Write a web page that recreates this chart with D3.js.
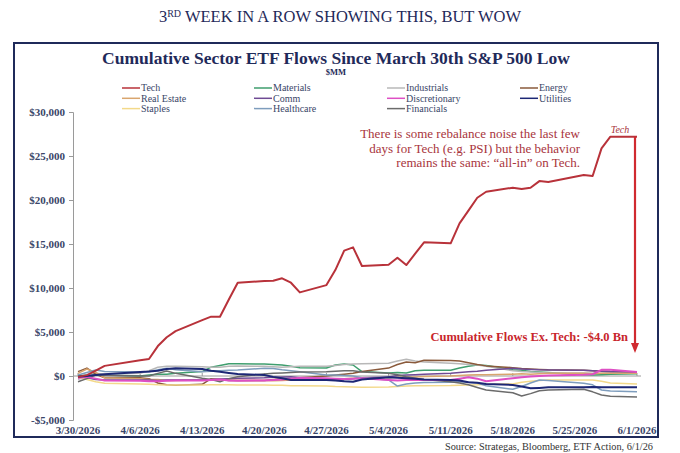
<!DOCTYPE html>
<html>
<head>
<meta charset="utf-8">
<script src="https://cdn.jsdelivr.net/npm/d3@7"></script>
<style>
  body { margin: 0; background: #fff; }
  svg { display: block; font-family: "Liberation Serif", serif; }
</style>
</head>
<body>
<svg id="chart" width="680" height="453"></svg>
<script>
// trading days since the 3/30 low
let dates = ["2026-03-30","2026-03-31","2026-04-01","2026-04-02","2026-04-06","2026-04-07","2026-04-08","2026-04-09","2026-04-10",
  "2026-04-13","2026-04-14","2026-04-15","2026-04-16","2026-04-17","2026-04-20","2026-04-21","2026-04-22","2026-04-23","2026-04-24",
  "2026-04-27","2026-04-28","2026-04-29","2026-04-30","2026-05-01","2026-05-04","2026-05-05","2026-05-06","2026-05-07","2026-05-08",
  "2026-05-11","2026-05-12","2026-05-13","2026-05-14","2026-05-15","2026-05-18","2026-05-19","2026-05-20","2026-05-21","2026-05-22",
  "2026-05-26","2026-05-27","2026-05-28","2026-05-29","2026-06-01"]

let tickDates = ["2026-03-30","2026-04-06","2026-04-13","2026-04-20","2026-04-27","2026-05-04","2026-05-11","2026-05-18","2026-05-25","2026-06-01"]
let yTicks = [-5000, 0, 5000, 10000, 15000, 20000, 25000, 30000]

// cumulative flows, $MM
let tech = [-100,100,600,1150,1800,1930,3400,4400,5100,6350,6740,6740,8690,10600,10800,10830,11100,10600,9500,10330,
  12040,14240,14620,12500,12650,13440,12610,13900,15190,15080,17350,18800,20260,20940,21400,21240,21400,22150,22040,22830,
  22720,25870,27190,27190]
let materials = [0,100,200,100,0,100,200,200,300,500,1000,1200,1400,1400,1350,1300,1250,1100,950,900,
  1250,1350,1250,500,350,400,350,600,650,650,900,1100,1250,1200,700,650,500,450,400,150,100,150,200,250]
let industrials = [-200,100,300,200,300,600,1000,1100,1100,1050,1000,1000,1100,1150,1100,1050,1000,1050,1100,1100,
  1200,1300,1350,1400,1450,1700,1900,1700,1600,1450,1400,1300,1250,1100,600,500,450,400,350,350,300,300,350,300]
let energy = [500,900,200,-200,-200,-300,-800,-1000,-1050,-950,-300,-400,-500,-500,-500,-400,-300,-350,-200,0,
  100,200,300,500,900,1300,1600,1500,1800,1750,1700,1500,1300,1150,950,850,800,750,700,650,600,550,500,450]
let realEstate = [300,800,400,-200,-300,-400,-400,-500,-500,-450,-400,-400,-450,-500,-500,-550,-500,-450,-400,-350,
  -300,-300,-250,-200,-200,-150,-100,-100,-50,0,50,100,150,150,200,250,200,250,300,300,250,300,300,300]
let comm = [-300,-200,-400,-450,-450,-450,-500,-450,-450,-450,-400,-350,-300,-260,-200,-150,-100,-80,-200,-300,
  -450,-400,-300,-200,-100,50,110,150,200,300,400,490,550,650,870,800,750,700,680,650,600,550,500,490]
let discretionary = [-200,-100,-300,-500,-550,-600,-600,-550,-500,-500,-450,-400,-500,-550,-500,-450,-400,-300,-200,-250,
  -300,-350,-300,-260,-450,-500,-450,-450,-450,-450,-300,-150,-300,-600,-250,-150,-50,0,50,150,200,700,700,450]
let utilities = [-80,0,110,200,450,500,600,800,870,790,600,490,350,230,110,-100,-260,-450,-450,-450,
  -500,-600,-650,-400,-150,-200,-260,-300,-400,-450,-500,-700,-760,-900,-1020,-1200,-1400,-1350,-1280,-1280,
  -1250,-1280,-1280,-1280]
let staples = [-200,-400,-650,-830,-900,-950,-1000,-1020,-1020,-1020,-1000,-1000,-1000,-1020,-1020,-1050,-1050,-1100,-1100,-1150,
  -1200,-1220,-1250,-1280,-1250,-1200,-1140,-1100,-1100,-1080,-1050,-1020,-1000,-950,-900,-700,-600,-500,-450,-450,
  -450,-600,-800,-900]
let healthcare = [110,400,680,500,450,490,700,870,700,490,550,600,650,680,870,850,700,600,490,110,
  100,50,0,-200,-450,-1140,-910,-800,-750,-700,-650,-700,-800,-1100,-1510,-1200,-800,-450,-500,-830,
  -1000,-1590,-1700,-1800]
let financials = [-650,-300,110,50,0,0,300,570,300,-260,-400,-650,-300,-80,230,300,350,400,450,490,
  550,600,600,450,300,150,-80,-250,-400,-650,-800,-1000,-1300,-1590,-1900,-2270,-2000,-1670,-1600,-1510,
  -1800,-2160,-2300,-2400]

let sectorNames = ["Tech","Materials","Industrials","Energy","Real Estate","Comm","Discretionary","Utilities","Staples","Healthcare","Financials"]
let sectorValues = [tech, materials, industrials, energy, realEstate, comm, discretionary, utilities, staples, healthcare, financials]
let sectorColors = ["#b8323a","#3f9e6e","#b8b8b8","#8a5a3b","#d9a56e","#6f4a94","#de4fc4","#1c2775","#f3d98a","#7e9dbd","#6b6b6b"]
let sectorWidths = [2, 1.5, 1.5, 1.5, 1.5, 1.5, 2, 2, 1.5, 1.5, 1.5]

let navy = "#1f2a5a"
let axisText = "#3a4668"
let noteRed = "#a8343c"

let svg = d3.select("#chart")
let parse = d3.timeParse("%Y-%m-%d")

let xScale = d3.scaleTime()
               .domain([parse("2026-03-30"), parse("2026-06-01")])
               .range([78, 637])
let yScale = d3.scaleLinear()
               .domain([-5000, 30000])
               .range([420, 112])

//page title
let title = svg.append("text")
               .attr("x", 340)
               .attr("y", 22)
               .attr("text-anchor", "middle")
               .attr("fill", navy)
               .style("font-size", "16.5px")
title.append("tspan").text("3")
title.append("tspan").text("RD").style("font-size", "10px").attr("dy", -5)
title.append("tspan").text(" WEEK IN A ROW SHOWING THIS, BUT WOW").attr("dy", 5)

//frame
svg.append("rect")
   .attr("x", 14)
   .attr("y", 43)
   .attr("width", 644)
   .attr("height", 394)
   .attr("fill", "none")
   .attr("stroke", navy)
   .attr("stroke-width", 2)

svg.append("text")
   .text("Cumulative Sector ETF Flows Since March 30th S&P 500 Low")
   .attr("x", 336)
   .attr("y", 64)
   .attr("text-anchor", "middle")
   .attr("fill", navy)
   .style("font-size", "17.5px")
   .style("font-weight", "bold")

svg.append("text")
   .text("$MM")
   .attr("x", 336)
   .attr("y", 75)
   .attr("text-anchor", "middle")
   .attr("fill", navy)
   .style("font-size", "8.5px")
   .style("font-weight", "bold")

//legend, 4 columns
let legendCols = [122, 254, 387, 520]
let legend = svg.selectAll(".legend-item")
                .data(sectorNames)
                .enter()
                .append("g")
                .attr("class", "legend-item")
                .attr("transform", (d, i) => `translate(${legendCols[i % 4]}, ${88 + Math.floor(i / 4) * 10.3})`)
legend.append("line")
      .attr("x1", 0)
      .attr("x2", 18)
      .attr("stroke", (d, i) => sectorColors[i])
      .attr("stroke-width", 1.5)
legend.append("text")
      .text((d) => d)
      .attr("x", 19)
      .attr("y", 3.3)
      .attr("fill", axisText)
      .style("font-size", "10px")

//axes
let yAxis = d3.axisLeft(yScale)
              .tickValues(yTicks)
              .tickSize(4)
              .tickFormat((d) => d < 0 ? "-$" + d3.format(",")(-d) : "$" + d3.format(",")(d))
let yG = svg.append("g")
            .attr("transform", "translate(73, 0)")
            .call(yAxis)
yG.select(".domain").attr("stroke", "#9a9a9a")
yG.selectAll(".tick line").attr("stroke", "#9a9a9a")
yG.selectAll(".tick text")
  .attr("x", -8)
  .attr("fill", axisText)
  .style("font-family", "Liberation Serif, serif")
  .style("font-size", "11px")
  .style("font-weight", "bold")

svg.append("line")
   .attr("x1", 73)
   .attr("x2", 641)
   .attr("y1", yScale(0))
   .attr("y2", yScale(0))
   .attr("stroke", "#9a9a9a")
svg.selectAll(".xtick")
   .data(tickDates)
   .enter()
   .append("line")
   .attr("class", "xtick")
   .attr("x1", (d) => xScale(parse(d)))
   .attr("x2", (d) => xScale(parse(d)))
   .attr("y1", yScale(0))
   .attr("y2", yScale(0) - 3)
   .attr("stroke", "#9a9a9a")
svg.selectAll(".xlabel")
   .data(tickDates)
   .enter()
   .append("text")
   .attr("class", "xlabel")
   .text((d) => d3.timeFormat("%-m/%-d/%Y")(parse(d)))
   .attr("x", (d) => xScale(parse(d)))
   .attr("y", 434)
   .attr("text-anchor", "middle")
   .attr("fill", axisText)
   .style("font-size", "11px")
   .style("font-weight", "bold")

//lines, tech drawn last so it sits on top
let line = d3.line()
             .x((d, i) => xScale(parse(dates[i])))
             .y((d) => yScale(d))
let order = [1, 2, 3, 4, 5, 8, 9, 10, 6, 7, 0]
order.forEach((k) => {
    svg.append("path")
       .datum(sectorValues[k])
       .attr("d", line)
       .attr("fill", "none")
       .attr("stroke", sectorColors[k])
       .attr("stroke-width", sectorWidths[k])
       .attr("stroke-linejoin", "round")
})

//annotations
let lastX = xScale(parse(dates[dates.length - 1]))
let lastY = yScale(tech[tech.length - 1])

svg.append("text")
   .text("Tech")
   .attr("x", lastX - 17)
   .attr("y", lastY - 4)
   .attr("text-anchor", "middle")
   .attr("fill", noteRed)
   .style("font-size", "10px")
   .style("font-style", "italic")

let noteLines = ["There is some rebalance noise the last few", "days for Tech (e.g. PSI) but the behavior", "remains the same: \u201Call-in\u201D on Tech."]
svg.selectAll(".note")
   .data(noteLines)
   .enter()
   .append("text")
   .attr("class", "note")
   .text((d) => d)
   .attr("x", 580)
   .attr("y", (d, i) => 138 + i * 14.7)
   .attr("text-anchor", "end")
   .attr("fill", noteRed)
   .style("font-size", "13px")

svg.append("line")
   .attr("x1", lastX - 2)
   .attr("x2", lastX - 2)
   .attr("y1", lastY)
   .attr("y2", 346)
   .attr("stroke", "#d02a30")
   .attr("stroke-width", 2.2)
svg.append("path")
   .attr("d", `M${lastX - 6},343 L${lastX + 2},343 L${lastX - 2},353 Z`)
   .attr("fill", "#d02a30")

svg.append("text")
   .text("Cumulative Flows Ex. Tech: -$4.0 Bn")
   .attr("x", 628)
   .attr("y", 341)
   .attr("text-anchor", "end")
   .attr("fill", "#c8262c")
   .style("font-size", "12.5px")
   .style("font-weight", "bold")

svg.append("text")
   .text("Source: Strategas, Bloomberg, ETF Action, 6/1/26")
   .attr("x", 653)
   .attr("y", 450)
   .attr("text-anchor", "end")
   .attr("fill", "#333")
   .style("font-size", "10.3px")
</script>
</body>
</html>
